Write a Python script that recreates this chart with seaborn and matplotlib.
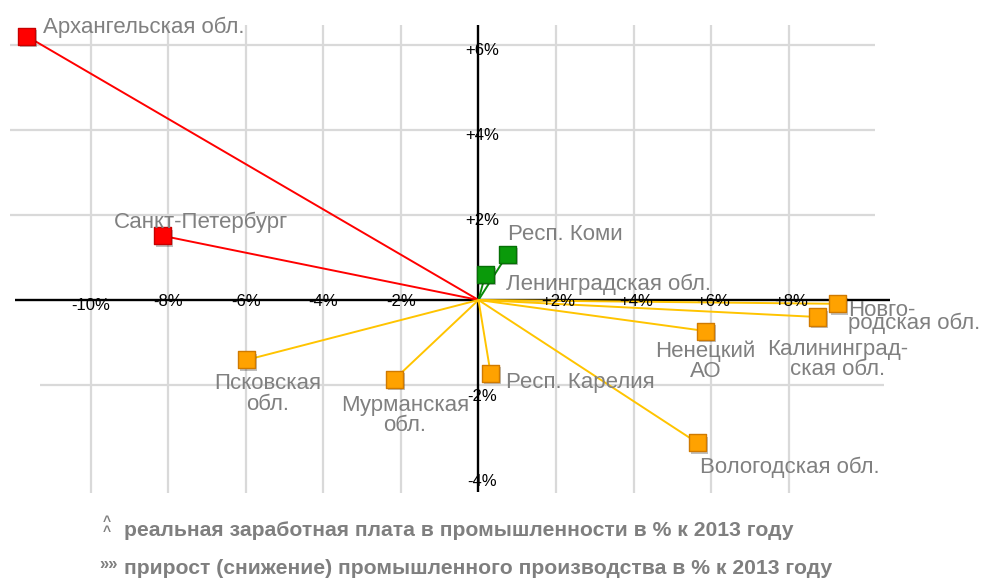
import matplotlib
matplotlib.use("Agg")
import matplotlib.pyplot as plt
import matplotlib.patheffects as pe
import seaborn as sns
import pandas as pd

# ---------------- data ----------------
regions = ["Архангельская обл.", "Санкт-Петербург", "Ленинградская обл.", "Респ. Коми",
           "Новго-\nродская обл.", "Калининград-\nская обл.", "Ненецкий\nАО", "Респ. Карелия",
           "Вологодская обл.", "Псковская\nобл.", "Мурманская\nобл."]
production = [-11.65, -8.14, 0.18, 0.75, 9.25, 8.74, 5.85, 0.31, 5.64, -5.98, -2.16]   # x, %
wages = [6.21, 1.51, 0.61, 1.08, -0.09, -0.40, -0.73, -1.72, -3.36, -1.41, -1.86]       # y, %
groups = ["red", "red", "green", "green", "orange", "orange", "orange", "orange",
          "orange", "orange", "orange"]

x_ticks = [-10, -8, -6, -4, -2, 2, 4, 6, 8]
x_tick_labels = ["-10%", "-8%", "-6%", "-4%", "-2%", "+2%", "+4%", "+6%", "+8%"]
y_ticks = [6, 4, 2, -2, -4]
y_tick_labels = ["+6%", "+4%", "+2%", "-2%", "-4%"]

legend_wage = "реальная заработная плата в промышленности в % к 2013 году"
legend_prod = "прирост (снижение) промышленного производства в % к 2013 году"

# ---------------- style ----------------
sns.set_style("white")
plt.rcParams['font.family'] = ['Liberation Sans', 'DejaVu Sans']

W, H = 981, 581
PX_X, X0 = 38.8, 478.5     # px per %, origin px
PX_Y, Y0 = 42.5, 300.0

def dx(px):
    return (px - X0) / PX_X

def dy(py):
    return (Y0 - py) / PX_Y

fig = plt.figure(figsize=(W / 100, H / 100), dpi=100)
ax = fig.add_axes([0, 0, 1, 1])

grid_c = "#d9d9d9"
ax.vlines(x_ticks, dy(493), dy(25), color=grid_c, lw=1.6, zorder=0)
ax.hlines([6, 4, 2], dx(10), dx(875), color=grid_c, lw=1.6, zorder=0)
ax.hlines([-2], dx(40), dx(884), color=grid_c, lw=1.6, zorder=0)

ax.hlines(0, dx(15), dx(890), color="black", lw=1.7, zorder=1)
ax.vlines(0, dy(492), dy(25), color="black", lw=1.7, zorder=1)

line_col = {"red": "#ff0000", "green": "#0a8a0a", "orange": "#ffc400"}
face_col = {"red": "#ff0000", "green": "#0a9a0a", "orange": "#ffa200"}
edge_col = {"red": "#c80000", "green": "#067006", "orange": "#d07a00"}

for xv, yv, g in zip(production, wages, groups):
    ax.plot([0, xv], [0, yv], color=line_col[g], lw=1.4, zorder=2, solid_capstyle="butt")

df = pd.DataFrame({"region": regions, "production": production, "wages": wages, "group": groups})
sns.scatterplot(data=df, x="production", y="wages", hue="group", palette=face_col,
                marker="s", s=150, edgecolor=[edge_col[g] for g in groups], linewidth=1.0,
                legend=False, ax=ax, zorder=4)
ax.collections[-1].set_path_effects([
    pe.SimplePatchShadow(offset=(1.5, -2), shadow_rgbFace="#000000", alpha=0.25), pe.Normal()])
ax.set_xlim(dx(0), dx(W))
ax.set_ylim(dy(H), dy(0))
ax.axis("off")

# tick labels
for t, lab in zip(x_ticks, x_tick_labels):
    ax.text(t + (0.06 if t > 0 else 0), -0.12 if t == -10 else -0.04, lab, ha="center", va="center",
            fontsize=12, color="black", zorder=3)
for t, lab in zip(y_ticks, y_tick_labels):
    ax.text(dx(482), t - (0.13 if t > 0 else 0.26), lab, ha="center", va="center", fontsize=12,
            color="black", zorder=3)

# point labels: (dx px, dy px up of last-line baseline, ha, linespacing)
label_layout = [
    (17, 3, "left", 1.0),
    (38, 8, "center", 1.0),
    (21, -16, "left", 1.0),
    (0, 14, "left", 1.0),
    (11, -25, "left", 0.45),
    (20, -58, "center", 0.93),
    (0, -46, "center", 0.93),
    (15, -15, "left", 1.0),
    (3, -30, "left", 1.0),
    (21, -50, "center", 0.98),
    (10, -52, "center", 0.93),
]
for name, xv, yv, (ox, oy, ha, ls) in zip(regions, production, wages, label_layout):
    ax.annotate(name, (xv, yv), xytext=(ox, oy), textcoords="offset pixels",
                ha=ha, va="baseline", multialignment=ha, linespacing=ls,
                fontsize=16, color="#808080", zorder=5)

# bottom legend
def ftext(px, py, s, **kw):
    fig.text(px / W, 1 - py / H, s, **kw)

gray = "#7f7f7f"
ftext(124, 530, legend_wage, ha="left", va="center", fontsize=15.2, fontweight="bold", color=gray)
ftext(124, 569, legend_prod, ha="left", va="center", fontsize=15.2, fontweight="bold", color=gray)
ftext(107, 527, "^\n^", ha="center", va="center", fontsize=10, fontweight="bold", color=gray,
      linespacing=0.55)
ftext(109, 565, "»»", ha="center", va="center", fontsize=12, fontweight="bold", color=gray)

fig.savefig("out.png", dpi=100)
